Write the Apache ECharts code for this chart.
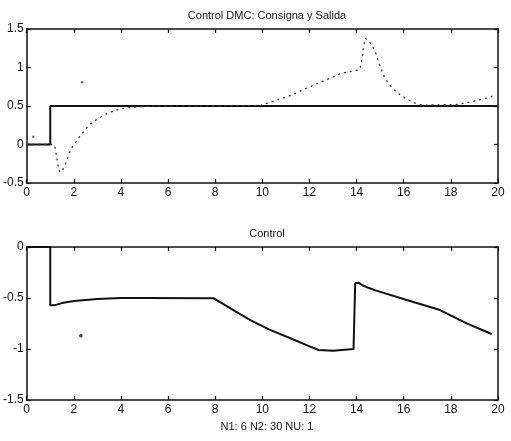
<!DOCTYPE html>
<html>
<head>
<meta charset="utf-8">
<script src="https://cdn.jsdelivr.net/npm/echarts@6/dist/echarts.min.js"></script>
<style>
  html, body { margin: 0; padding: 0; background: #fff; }
  #chart { width: 511px; height: 441px; }
</style>
</head>
<body>
<div id="chart"></div>
<script>
// top plot: setpoint (solid) and output (dotted)
const setpointX = [0, 1, 1, 20]
const setpointY = [0, 0, 0.5, 0.5]

const outputX = [0, 1, 1.15, 1.2, 1.27, 1.33, 1.4, 1.51, 1.65, 1.79, 1.94, 2.03, 2.29, 2.5, 2.71, 3.0, 3.28, 3.56, 3.84, 4.27, 4.8, 5.5, 9.9,
  10.55, 11.19, 11.8, 12.46, 13.0, 13.3, 13.6, 14.12, 14.18, 14.25, 14.3, 14.36, 14.5, 14.65, 14.8, 14.93, 15.14, 15.35, 15.57, 15.78, 16.13, 16.4, 16.8,
  18.25, 18.8, 19.37, 19.94]
const outputY = [0, 0, 0, -0.03, -0.16, -0.27, -0.36, -0.34, -0.25, -0.12, -0.03, 0.01, 0.12, 0.2, 0.27, 0.33, 0.385, 0.42, 0.45, 0.477, 0.49, 0.5, 0.506,
  0.57, 0.636, 0.72, 0.81, 0.875, 0.92, 0.94, 0.97, 1.03, 1.15, 1.29, 1.38, 1.35, 1.29, 1.2, 1.07, 0.9, 0.79, 0.72, 0.66, 0.59, 0.545, 0.51,
  0.52, 0.55, 0.59, 0.645]

// bottom plot: control signal
const controlX = [0, 1, 1, 1.2, 1.5, 2, 2.5, 3, 4, 5, 7.94, 8.7, 9.49, 10.3, 11.19, 12.03, 12.39, 13, 13.87, 13.94, 14.08, 14.25, 14.5, 14.8, 16.13, 17.54, 18.67, 19.73]
const controlY = [0, 0, -0.57, -0.57, -0.55, -0.53, -0.52, -0.51, -0.5, -0.5, -0.503, -0.61, -0.716, -0.81, -0.895, -0.977, -1.01, -1.017, -1.0, -0.356, -0.35, -0.375, -0.4, -0.425, -0.52, -0.618, -0.748, -0.853]

// scan specks
const speckTop = [[2.35, 0.81], [0.28, 0.1]]
const speckBottom = [[2.3, -0.87]]

const pairs = (xs, ys) => xs.map((x, i) => [x, ys[i]])

const font = 'Liberation Sans, Arial, sans-serif'
const black = '#111'

function xAx(gridIndex, top) {
  return {
    type: 'value', gridIndex, min: 0, max: 20, interval: 2,
    position: top ? 'top' : 'bottom',
    axisLine: { show: true, onZero: false, lineStyle: { color: black, width: 1.5 } },
    axisTick: { show: true, inside: true, length: 4, lineStyle: { color: black, width: 1.2 } },
    axisLabel: { show: !top, color: black, fontFamily: font, fontSize: 12, margin: 4 },
    splitLine: { show: false },
  }
}

function yAx(gridIndex, min, max, right) {
  return {
    type: 'value', gridIndex, min, max, interval: 0.5,
    position: right ? 'right' : 'left',
    axisLine: { show: true, onZero: false, lineStyle: { color: black, width: 1.5 } },
    axisTick: { show: true, inside: true, length: 4, lineStyle: { color: black, width: 1.2 } },
    axisLabel: { show: !right, color: black, fontFamily: font, fontSize: 12, margin: 3 },
    splitLine: { show: false },
  }
}

const chart = echarts.init(document.getElementById('chart'))
chart.setOption({
  animation: false,
  backgroundColor: '#fff',
  title: [
    { text: 'Control DMC: Consigna y Salida', left: 262, top: 5, textAlign: 'center',
      textStyle: { fontFamily: font, fontSize: 11, fontWeight: 'normal', color: black } },
    { text: 'Control', left: 262, top: 223, textAlign: 'center',
      textStyle: { fontFamily: font, fontSize: 11, fontWeight: 'normal', color: black } },
    { text: 'N1: 6 N2: 30 NU: 1', left: 262, top: 416, textAlign: 'center',
      textStyle: { fontFamily: font, fontSize: 11, fontWeight: 'normal', color: black } },
  ],
  grid: [
    { left: 26, top: 29, width: 472, height: 154 },
    { left: 26, top: 247, width: 472, height: 153 },
  ],
  xAxis: [xAx(0, false), xAx(0, true), xAx(1, false), xAx(1, true)],
  yAxis: [yAx(0, -0.5, 1.5, false), yAx(0, -0.5, 1.5, true), yAx(1, -1.5, 0, false), yAx(1, -1.5, 0, true)],
  series: [
    {
      type: 'line', xAxisIndex: 0, yAxisIndex: 0, showSymbol: false,
      data: pairs(setpointX, setpointY),
      lineStyle: { color: black, width: 2 },
    },
    {
      type: 'line', xAxisIndex: 0, yAxisIndex: 0, showSymbol: false,
      data: pairs(outputX, outputY),
      lineStyle: { color: '#333', width: 1.3, type: [1, 5], cap: 'round' },
    },
    {
      type: 'scatter', xAxisIndex: 0, yAxisIndex: 0, symbolSize: 2.5,
      data: speckTop, itemStyle: { color: '#444' },
    },
    {
      type: 'line', xAxisIndex: 2, yAxisIndex: 2, showSymbol: false,
      data: pairs(controlX, controlY),
      lineStyle: { color: black, width: 2 },
    },
    {
      type: 'scatter', xAxisIndex: 2, yAxisIndex: 2, symbolSize: 3.5,
      data: speckBottom, itemStyle: { color: black },
    },
  ],
})
</script>
</body>
</html>
